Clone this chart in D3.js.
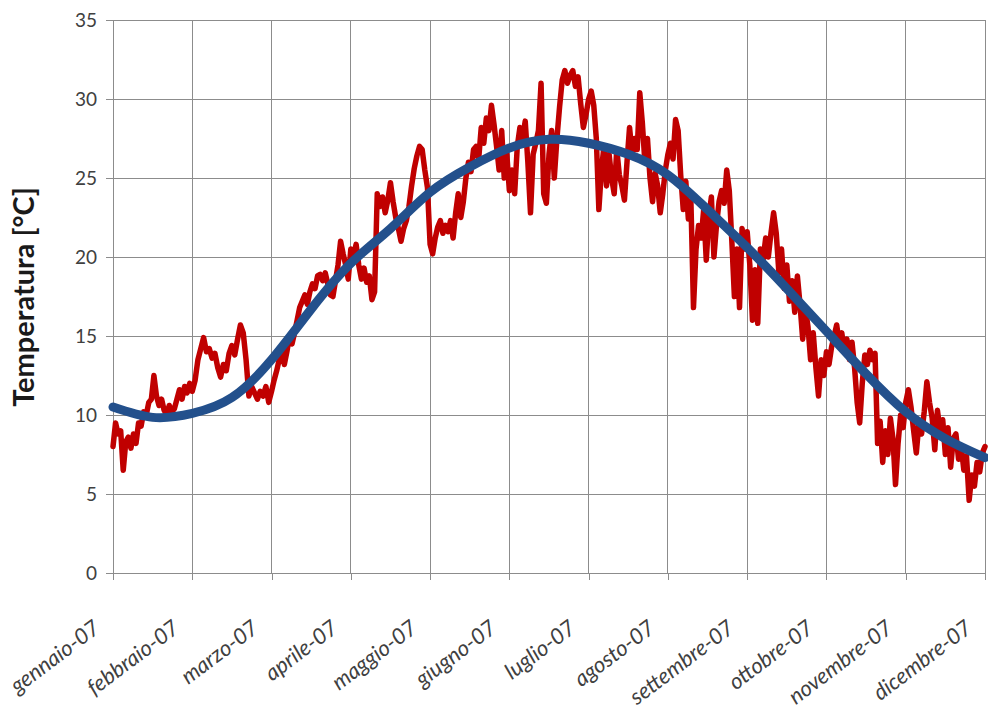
<!DOCTYPE html>
<html>
<head>
<meta charset="utf-8">
<script src="https://cdn.jsdelivr.net/npm/d3@7"></script>
<style>
  html, body { margin: 0; padding: 0; background: #ffffff; }
  svg { display: block; }
</style>
</head>
<body>
<svg id="chart" width="988" height="706"></svg>
<script>
// Month labels on the x axis
const monthLabels = ["gennaio-07", "febbraio-07", "marzo-07", "aprile-07", "maggio-07", "giugno-07",
  "luglio-07", "agosto-07", "settembre-07", "ottobre-07", "novembre-07", "dicembre-07"];

// Y axis ticks
const yTicks = [0, 5, 10, 15, 20, 25, 30, 35];

// Daily mean temperatures (°C), one array per month
const tGennaio = [8.0, 9.5, 8.8, 9.0, 6.5, 8.3, 8.6, 7.9, 8.8, 8.2, 9.5, 9.3, 10.2, 10.0, 10.8, 11.0,
  12.5, 11.2, 10.6, 11.0, 10.3, 10.0, 10.6, 10.2, 10.4, 11.0, 11.6, 11.0, 11.8, 11.4, 12.0];
const tFebbraio = [11.5, 12.2, 13.5, 14.2, 14.9, 14.0, 14.2, 13.6, 13.9, 13.0, 12.4, 13.2, 12.8, 13.9,
  14.4, 13.8, 14.8, 15.7, 15.2, 13.5, 11.2, 11.8, 11.4, 11.0, 11.5, 11.2, 11.8, 10.8];
const tMarzo = [11.5, 12.2, 12.8, 13.5, 14.1, 13.2, 14.0, 15.0, 14.5, 15.2, 16.0, 16.8, 17.2, 17.6,
  17.0, 17.8, 18.3, 18.0, 18.8, 18.9, 18.5, 19.0, 18.3, 17.6, 17.5, 18.5, 19.5, 21.0, 20.2, 19.5, 18.6];
const tAprile = [20.5, 20.0, 20.8, 19.5, 18.6, 19.3, 18.4, 18.8, 17.3, 17.8, 24.0, 23.2, 23.8, 22.8,
  23.6, 24.7, 23.5, 22.5, 21.8, 21.0, 21.8, 22.3, 23.2, 24.5, 25.6, 26.4, 27.0, 26.8, 25.5, 24.4];
const tMaggio = [20.8, 20.2, 21.2, 21.9, 22.3, 21.5, 22.0, 21.6, 22.3, 21.2, 22.8, 24.0, 22.5, 23.5,
  25.0, 26.0, 25.4, 26.8, 27.0, 26.2, 28.2, 27.2, 28.8, 28.0, 29.6, 28.4, 27.0, 25.5, 28.0, 25.0, 26.5];
const tGiugno = [24.2, 25.5, 24.0, 27.0, 28.2, 27.5, 28.6, 26.0, 22.8, 26.5, 27.2, 28.0, 31.0, 24.0,
  23.4, 26.5, 28.0, 25.0, 27.5, 29.5, 31.2, 31.8, 31.0, 31.5, 31.8, 30.8, 31.4, 29.7, 28.2, 29.0];
const tLuglio = [30.0, 30.5, 29.6, 27.5, 23.0, 25.5, 27.0, 24.5, 26.5, 25.0, 24.0, 26.8, 25.2, 24.5,
  23.6, 26.0, 28.2, 26.5, 27.5, 26.8, 30.4, 28.5, 26.0, 27.5, 25.0, 23.5, 25.3, 24.5, 22.8, 24.0, 25.5];
const tAgosto = [26.5, 27.2, 26.2, 28.7, 28.0, 25.2, 23.0, 24.8, 22.4, 23.5, 16.8, 20.5, 22.0, 21.2,
  23.0, 19.8, 22.5, 23.8, 20.0, 22.0, 23.5, 24.2, 23.4, 25.5, 24.2, 21.0, 17.5, 20.5, 16.8, 21.8, 20.5];
const tSettembre = [21.6, 19.5, 16.0, 19.2, 15.8, 20.5, 19.8, 21.2, 20.0, 21.5, 22.8, 21.5, 19.0, 20.5,
  18.0, 19.5, 17.2, 18.5, 16.5, 18.8, 17.0, 14.8, 16.8, 15.6, 13.5, 15.2, 13.0, 11.2, 13.5, 12.5];
const tOttobre = [14.0, 13.2, 14.3, 15.0, 15.7, 14.5, 15.2, 14.0, 14.8, 13.5, 14.6, 13.0, 10.8, 9.5,
  12.0, 13.8, 13.2, 14.1, 13.5, 13.9, 8.2, 9.6, 7.0, 9.0, 7.5, 9.8, 8.5, 5.6, 8.2, 10.0, 9.2];
const tNovembre = [10.8, 11.6, 10.5, 9.0, 7.6, 9.5, 8.8, 10.2, 12.1, 10.8, 9.8, 7.8, 10.3, 9.0, 9.7,
  7.5, 9.2, 6.7, 8.5, 8.8, 7.2, 8.0, 6.5, 7.4, 4.6, 6.2, 5.5, 7.0, 6.4, 7.6];
const tDicembre = [8.0];

// Smoothed seasonal trend, sampled every half month from gennaio to dicembre
const trendValues = [10.5, 9.85, 10.1, 11.1, 13.5, 16.7, 19.6, 21.8, 24.1, 25.7, 26.9, 27.45,
  27.2, 26.5, 25.2, 23.0, 20.6, 18.0, 15.3, 12.6, 10.2, 8.5, 7.3];

const monthlySeries = [tGennaio, tFebbraio, tMarzo, tAprile, tMaggio, tGiugno, tLuglio, tAgosto,
  tSettembre, tOttobre, tNovembre, tDicembre];
const monthLengths = [31, 28, 31, 30, 31, 30, 31, 31, 30, 31, 30, 31];

// Flatten to points placed in "month units" along the axis
const daily = [];
monthlySeries.forEach((arr, m) => {
  arr.forEach((v, i) => daily.push({ t: m + i / monthLengths[m], v }));
});
const trend = trendValues.map((v, i) => ({ t: i * 0.5, v }));

const svg = d3.select("#chart");
const plotLeft = 113, plotRight = 985, plotTop = 20, plotBottom = 573;

const x = d3.scaleLinear().domain([0, 11]).range([plotLeft, plotRight]);
const y = d3.scaleLinear().domain([0, 35]).range([plotBottom, plotTop]);

const gridColor = "#8c8c8c";
const font = "Lato, 'Open Sans', sans-serif";

// Horizontal gridlines
svg.append("g")
  .selectAll("line")
  .data(yTicks.filter(d => d > 0))
  .join("line")
  .attr("x1", plotLeft).attr("x2", plotRight)
  .attr("y1", d => y(d)).attr("y2", d => y(d))
  .attr("stroke", gridColor).attr("stroke-width", 1)
  .attr("shape-rendering", "crispEdges");

// Vertical gridlines at each month
svg.append("g")
  .selectAll("line")
  .data(d3.range(1, 12))
  .join("line")
  .attr("x1", d => x(d)).attr("x2", d => x(d))
  .attr("y1", plotTop).attr("y2", plotBottom)
  .attr("stroke", gridColor).attr("stroke-width", 1)
  .attr("shape-rendering", "crispEdges");

// Y axis
const yAxis = svg.append("g")
  .attr("transform", `translate(${plotLeft},0)`)
  .call(d3.axisLeft(y).tickValues(yTicks).tickSize(7).tickPadding(9));
yAxis.select(".domain").attr("stroke", gridColor).attr("shape-rendering", "crispEdges");
yAxis.selectAll(".tick line").attr("stroke", gridColor).attr("shape-rendering", "crispEdges");
yAxis.selectAll("text")
  .attr("font-family", font).attr("font-size", 19).attr("fill", "#404040");

// X axis with slanted month labels
const xAxis = svg.append("g")
  .attr("transform", `translate(0,${plotBottom})`)
  .call(d3.axisBottom(x).tickValues(d3.range(0, 12)).tickSize(7).tickFormat(d => monthLabels[d]));
xAxis.select(".domain").attr("stroke", gridColor).attr("shape-rendering", "crispEdges");
xAxis.selectAll(".tick line").attr("stroke", gridColor).attr("shape-rendering", "crispEdges");
xAxis.selectAll("text")
  .attr("font-family", font).attr("font-size", 22).attr("font-style", "italic")
  .attr("fill", "#404040")
  .attr("text-anchor", "end")
  .attr("x", 0).attr("y", 0).attr("dy", 0)
  .attr("transform", "translate(-12,58) rotate(-37)");

// Daily temperature line
svg.append("path")
  .datum(daily)
  .attr("fill", "none")
  .attr("stroke", "#c00000")
  .attr("stroke-width", 5.5)
  .attr("stroke-linejoin", "round")
  .attr("stroke-linecap", "round")
  .attr("d", d3.line().x(d => x(d.t)).y(d => y(d.v)));

// Seasonal trend
svg.append("path")
  .datum(trend)
  .attr("fill", "none")
  .attr("stroke", "#23508c")
  .attr("stroke-width", 9)
  .attr("stroke-linecap", "round")
  .attr("d", d3.line().x(d => x(d.t)).y(d => y(d.v)).curve(d3.curveNatural));

// Y axis title
svg.append("text")
  .attr("transform", `translate(34,297) rotate(-90)`)
  .attr("text-anchor", "middle")
  .attr("font-family", font)
  .attr("font-size", 29)
  .attr("font-weight", "bold")
  .attr("fill", "#1a1a1a")
  .text("Temperatura [°C]");
</script>
</body>
</html>
